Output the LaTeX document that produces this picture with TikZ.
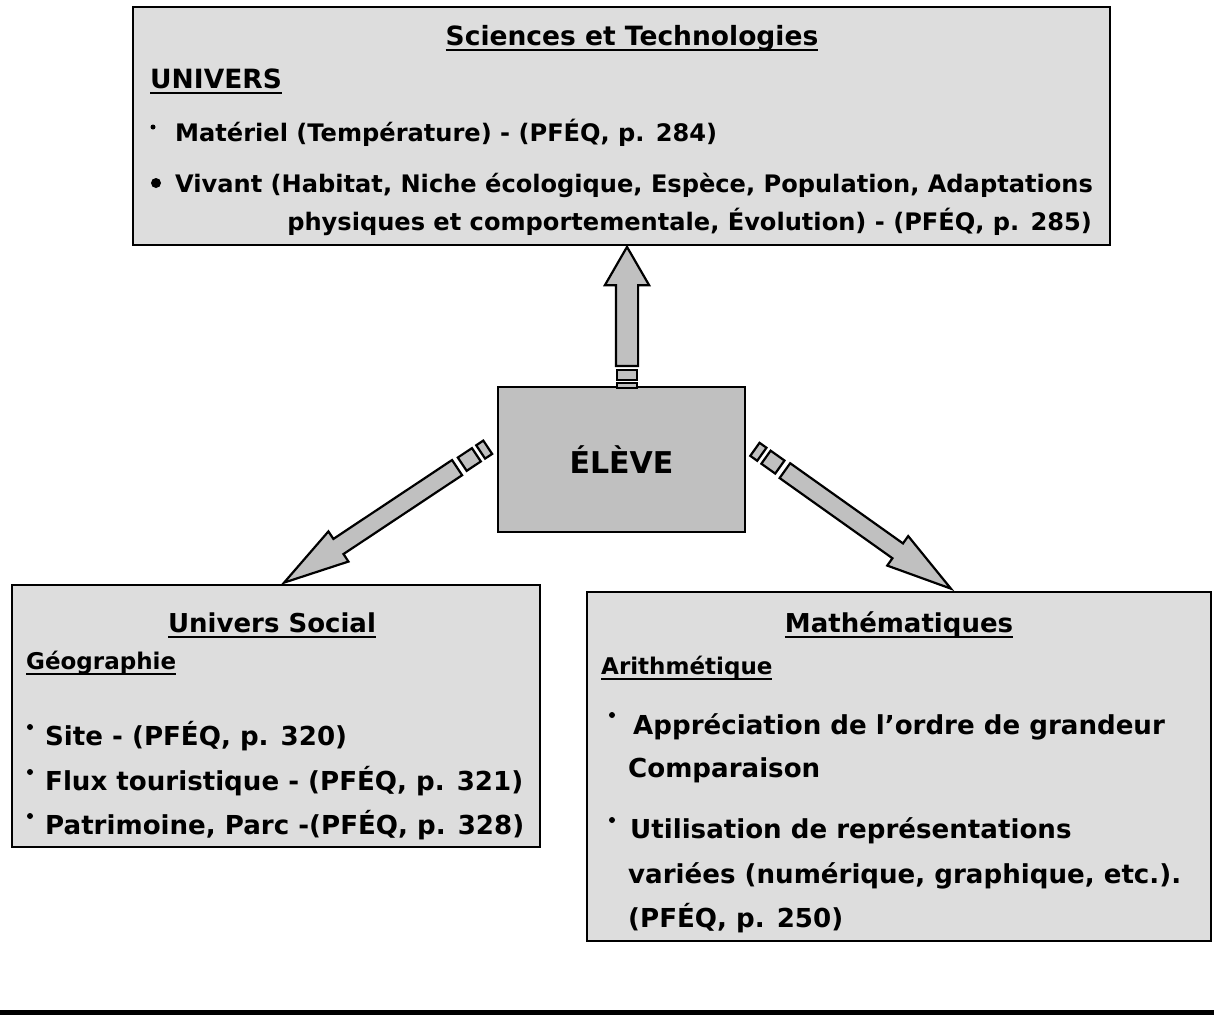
\documentclass[tikz,border=0pt]{standalone}
\usepackage{fontspec}
\setmainfont{DejaVu Sans}
\usetikzlibrary{shapes.arrows,calc}
\definecolor{fondboite}{HTML}{DDDDDD}
\definecolor{fondeleve}{HTML}{C0C0C0}
\newcommand{\souligne}[1]{\setbox0=\hbox{#1}\rlap{\rule[-6pt]{\wd0}{2pt}}\box0}
% fleche rayee : nom, queue, pointe, corps, extension tete, angle, echelle des raies
\newcommand{\fleche}[7]{%
  \path let \p1=($(#3)-(#2)$), \n1={atan2(\y1,\x1)}, \n2={veclen(\x1,\y1)} in
    node[corps, anchor=tail, rotate=\n1, minimum height=\n2, inner ysep=#4/2,
         single arrow head extend=#5pt, single arrow tip angle=#6] (#1) at (#2) {}
    node[raie, rotate=\n1, minimum width=10*#7, minimum height=#4] (#1-r1) at ($(#2)!-8*#7pt!(#3)$) {}
    node[raie, rotate=\n1, minimum width=5*#7, minimum height=#4] (#1-r2) at ($(#2)!-18.5*#7pt!(#3)$) {};
}

\begin{document}
\begin{tikzpicture}
  [x=1pt,y=-1pt,
   domaine/.style={draw, line width=2.5pt, fill=fondboite, inner sep=0pt},
   eleve/.style={draw, line width=2.5pt, fill=fondeleve, inner sep=0pt,
                 font=\bfseries\fontsize{30}{36}\selectfont},
   texte/.style={anchor=base west, inner sep=0pt, font=\bfseries\fontsize{24.1}{28}\selectfont},
   titre/.style={texte, anchor=base, font=\bfseries\fontsize{26.5}{30}\selectfont},
   sstitre/.style={texte, font=\bfseries\fontsize{26.5}{30}\selectfont},
   texteb/.style={anchor=base west, inner sep=0pt, font=\bfseries\fontsize{26.1}{30}\selectfont},
   titreb/.style={texteb, anchor=base, font=\bfseries\fontsize{26}{30}\selectfont},
   sstitreb/.style={texteb, font=\bfseries\fontsize{23}{27}\selectfont},
   puce/.style={circle, fill=black, inner sep=0pt, minimum size=6},
   corps/.style={single arrow, draw, line width=2.2pt, fill=fondeleve, minimum width=0pt,
                 inner xsep=0pt},
   raie/.style={rectangle, draw, line width=2.2pt, fill=fondeleve, inner sep=0pt}]
  \useasboundingbox (0,0) rectangle (1214,1015);

  % Sciences et Technologies
  \node[domaine, minimum width=977, minimum height=238] (sciences) at (621.5,126) {};
  \node[titre] (titreST) at (632,45) {\souligne{Sciences et Technologies}};
  \node[sstitre] (univers) at (150,88) {\souligne{UNIVERS}};
  \node[puce, minimum size=5] (p1) at (153,127) {};
  \node[texte] (materiel) at (175,141) {Matériel (Température) - (PFÉQ, p. 284)};
  \node[puce, minimum size=10] (p2) at (156,183) {};
  \node[texte] (vivant) at (175,192) {Vivant (Habitat, Niche écologique, Espèce, Population, Adaptations};
  \node[texte, anchor=base east] (vivant2) at (1092,230) {physiques et comportementale, Évolution) - (PFÉQ, p. 285)};

  % eleve
  \node[eleve, minimum width=247, minimum height=145] (eleve) at (621.5,459.5) {ÉLÈVE};

  % Univers Social
  \node[domaine, minimum width=528, minimum height=262] (social) at (276,716) {};
  \node[titreb] (titreUS) at (272,632) {\souligne{Univers Social}};
  \node[sstitreb] (geo) at (26,669) {\souligne{Géographie}};
  \node[puce] (p3) at (30,727) {};
  \node[texteb] (site) at (45,745) {Site - (PFÉQ, p. 320)};
  \node[puce] (p4) at (30,772) {};
  \node[texteb] (flux) at (45,790) {Flux touristique - (PFÉQ, p. 321)};
  \node[puce] (p5) at (30,816) {};
  \node[texteb] (patrimoine) at (45,834) {Patrimoine, Parc -(PFÉQ, p. 328)};

  % Mathematiques
  \node[domaine, minimum width=624, minimum height=349] (maths) at (899,766.5) {};
  \node[titreb] (titreM) at (899,632) {\souligne{Mathématiques}};
  \node[sstitreb] (arith) at (601,674) {\souligne{Arithmétique}};
  \node[puce] (p6) at (612,715) {};
  \node[texteb] (appreciation) at (633,734) {Appréciation de l’ordre de grandeur};
  \node[texteb] (comparaison) at (628,777) {Comparaison};
  \node[puce] (p7) at (612,820) {};
  \node[texteb] (utilisation) at (630,838) {Utilisation de représentations};
  \node[texteb] (variees) at (628,883) {variées (numérique, graphique, etc.).};
  \node[texteb] (pfeq) at (628,927) {(PFÉQ, p. 250)};

  % fleches
  \coordinate (queueH) at (627,367);
  \coordinate (pointeH) at (627,248);
  \coordinate (queueG) at (458,467);
  \coordinate (pointeG) at (285,582);
  \coordinate (queueD) at (784,470);
  \coordinate (pointeD) at (950,588);
  \fleche{flecheH}{queueH}{pointeH}{20}{11}{60}{1}
  \fleche{flecheG}{queueG}{pointeG}{16}{9}{31}{1.7}
  \fleche{flecheD}{queueD}{pointeD}{16}{9}{31}{1.7}

  \fill (0,1010) rectangle (1214,1015);
\end{tikzpicture}
\end{document}
